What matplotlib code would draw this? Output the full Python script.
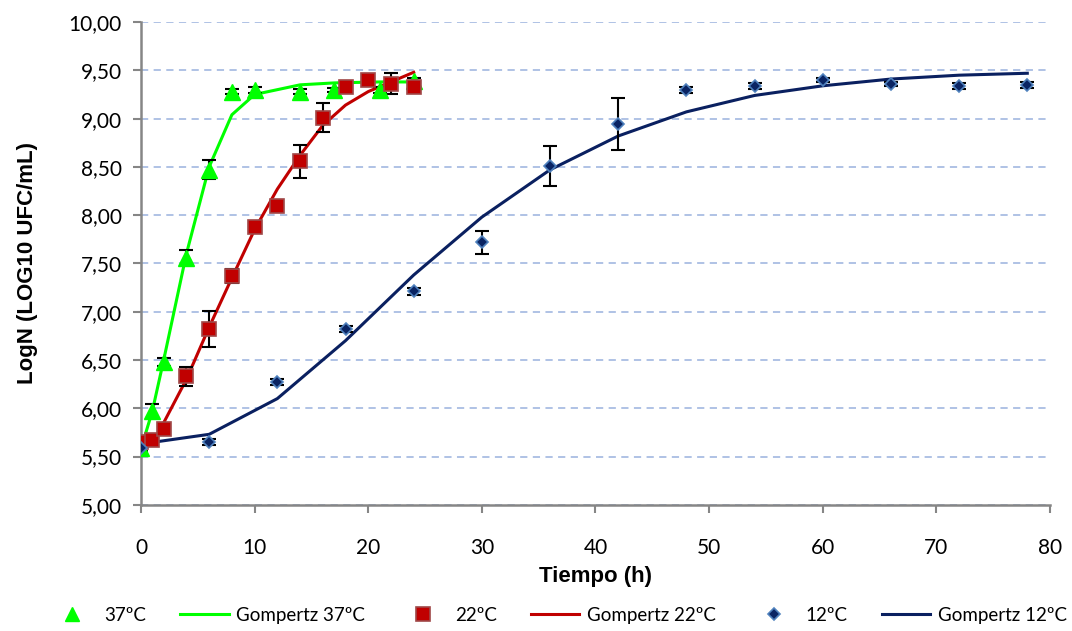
import matplotlib
matplotlib.use('Agg')
import matplotlib.pyplot as plt
from matplotlib.ticker import FuncFormatter

# 37ºC data
t37 = [0, 1, 2, 4, 6, 8, 10, 14, 17, 21, 24]
y37 = [5.59, 5.97, 6.48, 7.56, 8.47, 9.28, 9.30, 9.28, 9.30, 9.30, 9.39]
e37 = [0.03, 0.07, 0.04, 0.08, 0.10, 0.03, 0.03, 0.03, 0.02, 0.03, 0.03]
g37 = [5.58, 5.97, 6.50, 7.60, 8.50, 9.04, 9.25, 9.35, 9.37, 9.38, 9.38]

# 22ºC data
t22 = [0, 1, 2, 4, 6, 8, 10, 12, 14, 16, 18, 20, 22, 24]
y22 = [5.65, 5.67, 5.79, 6.33, 6.82, 7.37, 7.88, 8.10, 8.56, 9.01, 9.33, 9.40, 9.36, 9.33]
e22 = [0.03, 0.05, 0.03, 0.10, 0.19, 0.07, 0.03, 0.03, 0.17, 0.15, 0.03, 0.03, 0.11, 0.05]
g22 = [5.60, 5.62, 5.85, 6.30, 6.84, 7.35, 7.85, 8.27, 8.62, 8.93, 9.14, 9.28, 9.38, 9.48]

# 12ºC data
t12 = [0, 6, 12, 18, 24, 30, 36, 42, 48, 54, 60, 66, 72, 78]
y12 = [5.59, 5.65, 6.27, 6.82, 7.21, 7.72, 8.51, 8.94, 9.30, 9.34, 9.40, 9.36, 9.34, 9.35]
e12 = [0.03, 0.03, 0.03, 0.03, 0.04, 0.12, 0.21, 0.27, 0.03, 0.03, 0.02, 0.02, 0.03, 0.03]
g12 = [5.63, 5.73, 6.10, 6.70, 7.38, 7.98, 8.47, 8.82, 9.07, 9.24, 9.34, 9.41, 9.45, 9.47]

fig = plt.figure(figsize=(10.72, 6.31), dpi=100)
ax = fig.add_axes([0.1315, 0.2, 0.848, 0.765])

# lines
ax.plot(t37, g37, color='#00ff00', lw=2.2, zorder=3, label='Gompertz 37ºC')
ax.plot(t22, g22, color='#c00000', lw=2.2, zorder=3, label='Gompertz 22ºC')
ax.plot(t12, g12, color='#0a2060', lw=2.2, zorder=3, label='Gompertz 12ºC')

# error bars (behind markers)
for t, y, e in [(t37, y37, e37), (t22, y22, e22), (t12, y12, e12)]:
    ax.errorbar(t, y, yerr=e, fmt='none', ecolor='black', elinewidth=1.5, capsize=5, capthick=1.5, zorder=4)

# markers
ax.plot(t37, y37, ls='none', marker='^', ms=11, color='#00ff00', mec='#00ff00', zorder=5, label='37ºC')
ax.plot(t22, y22, ls='none', marker='s', ms=10.5, color='#c00000', mec='#a04848', mew=1.2, zorder=6, label='22ºC')
ax.plot(t12, y12, ls='none', marker='D', ms=6.5, color='#0a2463', mec='#4f81bd', mew=1.2, zorder=7, label='12ºC')

ax.set_xlim(0, 80)
ax.set_ylim(5, 10)
ax.set_xticks(range(0, 81, 10))
ax.set_yticks([5 + 0.5 * i for i in range(11)])
ax.yaxis.set_major_formatter(FuncFormatter(lambda v, p: f'{v:.2f}'.replace('.', ',')))
ax.grid(axis='y', color='#a9bde3', ls=(0, (4, 3)), lw=1.3)
ax.set_axisbelow(True)
for s in ['top', 'right']:
    ax.spines[s].set_visible(False)
for s in ['left', 'bottom']:
    ax.spines[s].set_color('#868686')
    ax.spines[s].set_linewidth(1.8)
ax.tick_params(colors='#868686', width=1.5, length=6, labelcolor='black', labelsize=15)
ax.tick_params(axis='x', pad=18)
ax.tick_params(axis='y', pad=8)
for lab in ax.get_xticklabels() + ax.get_yticklabels():
    lab.set_family('Lato')

ax.set_xlabel('Tiempo (h)', fontsize=16, fontweight='bold', family='Liberation Sans', labelpad=6)
ax.set_ylabel('LogN (LOG10 UFC/mL)', fontsize=16, fontweight='bold', family='Liberation Sans', labelpad=22)

h, l = ax.get_legend_handles_labels()
order = [3, 0, 4, 1, 5, 2]
fig.legend([h[i] for i in order], [l[i] for i in order], loc='lower center', ncol=6, frameon=False,
           bbox_to_anchor=(0.52, -0.015), prop={'family': 'Lato', 'size': 13.5},
           handlelength=2.6, columnspacing=1.8, handletextpad=0.4, markerscale=0.95)

fig.savefig('out.png', dpi=100)
